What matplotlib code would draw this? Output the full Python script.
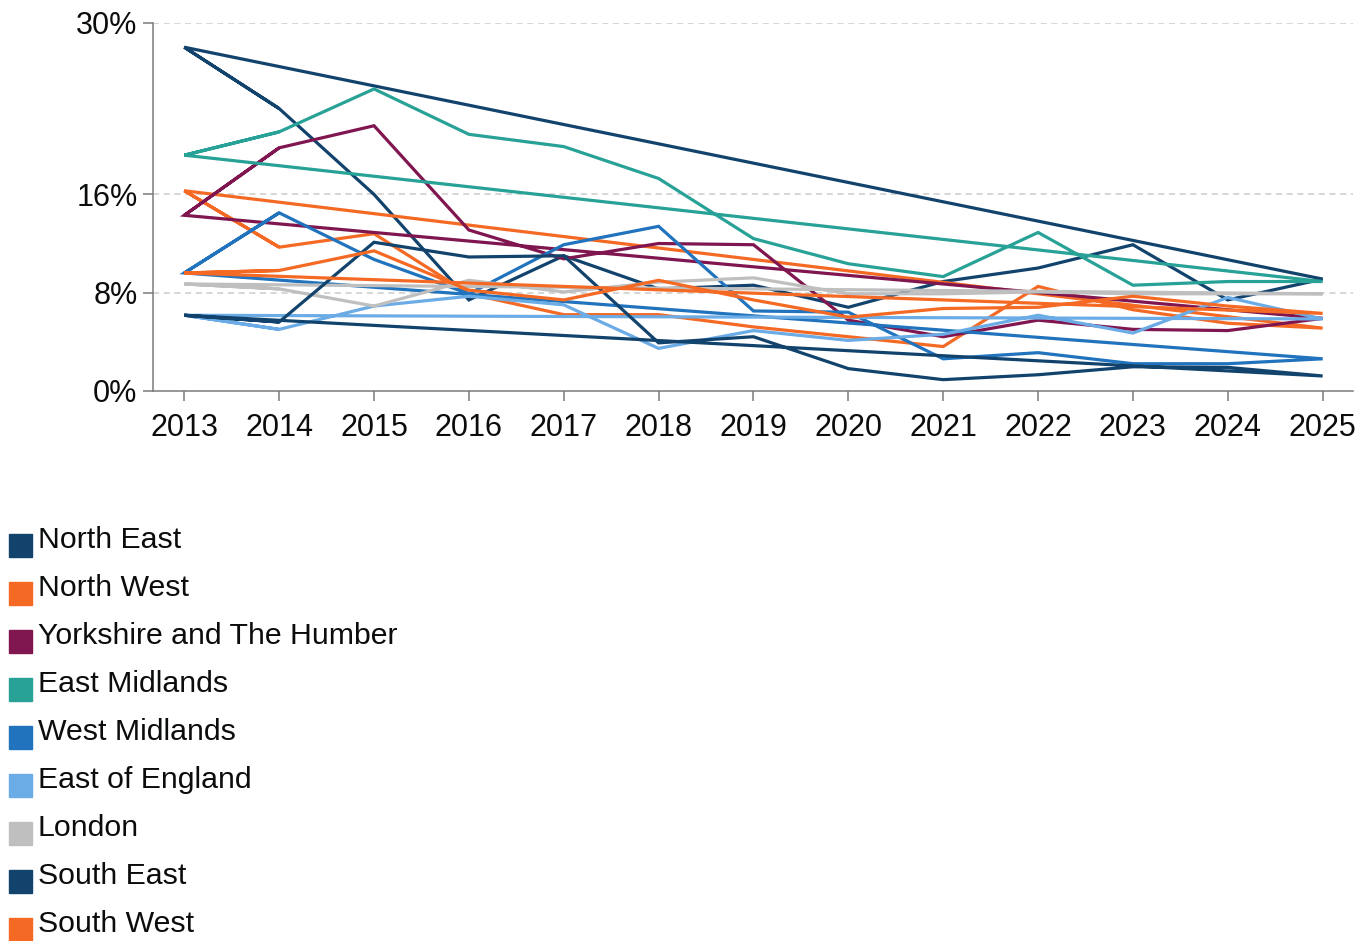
import matplotlib
matplotlib.use("Agg")
import matplotlib.pyplot as plt
from matplotlib.patches import Rectangle

plt.rcParams['font.family'] = ['Liberation Sans', 'DejaVu Sans']

# Share of pupils (%) by region, 2013-2025
years = [2013, 2014, 2015, 2016, 2017, 2018, 2019, 2020, 2021, 2022, 2023, 2024, 2025]
regions = ['North East', 'North West', 'Yorkshire and The Humber', 'East Midlands',
           'West Midlands', 'East of England', 'London', 'South East', 'South West']
north_east = [28.0, 23.0, 16.0, 7.4, 11.0, 8.3, 8.6, 6.8, 8.9, 10.0, 11.9, 7.4, 9.1]
north_west = [16.3, 11.7, 12.8, 7.9, 6.2, 6.2, 5.2, 4.4, 3.6, 8.5, 6.6, 5.5, 5.1]
yorkshire = [14.3, 19.8, 21.6, 13.1, 10.75, 12.0, 11.9, 5.75, 4.4, 5.75, 5.0, 4.9, 5.9]
east_midlands = [19.2, 21.1, 24.6, 20.9, 19.9, 17.3, 12.4, 10.35, 9.3, 12.9, 8.6, 8.9, 8.9]
west_midlands = [9.6, 14.5, 10.7, 7.9, 11.9, 13.4, 6.5, 6.4, 2.6, 3.1, 2.2, 2.2, 2.6]
east_england = [6.15, 5.0, 6.9, 7.7, 7.0, 3.45, 4.9, 4.1, 4.6, 6.15, 4.7, 7.6, 5.85]
london = [8.7, 8.3, 6.9, 9.0, 8.05, 8.85, 9.2, 7.9, 7.9, 8.05, 7.9, 7.9, 7.9]
south_east = [6.15, 5.6, 12.1, 10.9, 11.0, 3.9, 4.4, 1.8, 0.9, 1.3, 1.95, 1.9, 1.2]
south_west = [9.6, 9.8, 11.4, 8.2, 7.4, 9.0, 7.4, 6.0, 6.7, 6.8, 7.7, 6.9, 6.3]
series = [north_east, north_west, yorkshire, east_midlands, west_midlands,
          east_england, london, south_east, south_west]
colors = ['#12436D', '#F46A25', '#801650', '#28A197', '#2073BC',
          '#6BACE6', '#BFBFBF', '#12436D', '#F46A25']
yticks = [0, 8, 16, 30]
ylabels = ['0%', '8%', '16%', '30%']

W, H = 1364, 941
fig = plt.figure(figsize=(W / 100, H / 100), dpi=100)
ax = fig.add_axes([153 / W, 1 - 390.7 / H, 1200 / W, 368 / H])

# each region is drawn as a closed loop (last point joins back to first)
for vals, c in zip(series, colors):
    xs = years + years[:2]
    ys = vals + vals[:2]
    ax.plot(xs, ys, color=c, lw=2.3, solid_joinstyle='miter', solid_capstyle='butt')

ax.set_xlim(2012.67, 2025.32)
ax.set_ylim(0, 30)
ax.set_xticks(years)
ax.set_xticklabels([str(y) for y in years])
ax.set_yticks(yticks)
ax.set_yticklabels(ylabels)
for g in yticks[1:]:
    ax.axhline(g, color='#cccccc', lw=1.1, ls=(0, (4, 3)), zorder=0)

for s in ['top', 'right']:
    ax.spines[s].set_visible(False)
for s in ['left', 'bottom']:
    ax.spines[s].set_color('#7a7a7a')
    ax.spines[s].set_linewidth(1.1)
ax.tick_params(axis='both', length=7.2, width=1.1, color='#7a7a7a',
               labelsize=22, labelcolor='#0b0c0c')
ax.tick_params(axis='x', pad=9)
ax.tick_params(axis='y', pad=4)

# legend drawn by hand in a single column below the plot
for i, (name, c) in enumerate(zip(regions, colors)):
    top = 534 + 48 * i
    fig.add_artist(Rectangle((9 / W, 1 - (top + 23) / H), 23 / W, 23 / H,
                             transform=fig.transFigure, color=c))
    fig.text(38 / W, 1 - (top + 14.5) / H, name, fontsize=21.8, color='#0b0c0c',
             va='baseline', ha='left')

fig.savefig('out.png', dpi=100)
